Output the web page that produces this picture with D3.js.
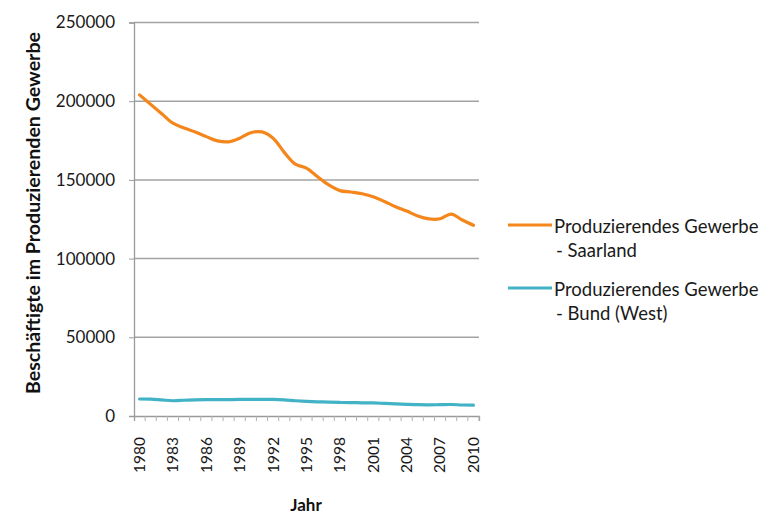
<!DOCTYPE html>
<html>
<head>
<meta charset="utf-8">
<script src="https://cdn.jsdelivr.net/npm/d3@7"></script>
<style>
  html, body { margin: 0; padding: 0; background: #fff; }
  svg { display: block; font-family: Lato, "Open Sans", sans-serif; }
</style>
</head>
<body>
<svg id="chart" width="770" height="518"></svg>
<script>
// Beschäftigte im Produzierenden Gewerbe, 1980–2010
const years = d3.range(1980, 2011);
const saarland = [
  204000, 198000, 192000, 186000, 183000, 180500, 177500, 174800, 174200, 176500,
  180000, 180500, 176500, 167500, 160000, 157500, 152000, 146800, 143200, 142300,
  141200, 139300, 136300, 133000, 130200, 127000, 125200, 125300, 128300, 124500, 121200
];
const bundWest = [
  10800, 10700, 10200, 9700, 10000, 10300, 10400, 10400, 10400, 10500,
  10600, 10600, 10500, 10200, 9700, 9300, 9000, 8800, 8600, 8500,
  8400, 8300, 8000, 7700, 7400, 7200, 7100, 7200, 7300, 7000, 6900
];
const yTicks = [0, 50000, 100000, 150000, 200000, 250000];
const xLabelYears = [1980, 1983, 1986, 1989, 1992, 1995, 1998, 2001, 2004, 2007, 2010];
const seriesNames = [
  ["Produzierendes Gewerbe", "- Saarland"],
  ["Produzierendes Gewerbe", "- Bund (West)"]
];
const seriesColors = ["#F4861C", "#42B2C6"];

const svg = d3.select("#chart");
const plot = { left: 134, right: 479, top: 22.5, bottom: 416 };

const x = d3.scaleBand().domain(years).range([plot.left, plot.right]);
const y = d3.scaleLinear().domain([0, 250000]).range([plot.bottom, plot.top]);

// horizontal gridlines
svg.append("g")
  .selectAll("line")
  .data(yTicks.filter(d => d > 0))
  .join("line")
  .attr("x1", plot.left).attr("x2", plot.right)
  .attr("y1", d => y(d)).attr("y2", d => y(d))
  .attr("stroke", "#A3A3A3").attr("stroke-width", 1.5);

// y axis
const yAxis = svg.append("g")
  .attr("transform", `translate(${plot.left},0)`)
  .call(d3.axisLeft(y).tickValues(yTicks).tickSize(5).tickPadding(14).tickFormat(d3.format("d")));
yAxis.select(".domain").attr("stroke", "#9a9a9a").attr("stroke-width", 1.3);
yAxis.selectAll(".tick line").attr("stroke", "#9a9a9a");
yAxis.selectAll(".tick text")
  .attr("font-size", 17).attr("fill", "#1a1a1a")
  .style("font-family", "Lato, sans-serif");

// x axis
const xAxis = svg.append("g")
  .attr("transform", `translate(0,${plot.bottom})`)
  .call(d3.axisBottom(x).tickSize(5).tickFormat(d => xLabelYears.includes(d) ? d : ""));
xAxis.select(".domain").attr("stroke", "#9a9a9a").attr("stroke-width", 1.3);
xAxis.selectAll(".tick line")
  .attr("stroke", "#b0b0b0")
  .attr("transform", d => `translate(${x.bandwidth() / 2},0)`);
xAxis.selectAll(".tick text")
  .attr("font-size", 15.5).attr("fill", "#1a1a1a")
  .attr("text-anchor", "end")
  .attr("dy", "0.35em")
  .attr("transform", "translate(0,21) rotate(-90)")
  .attr("x", 0).attr("y", 0)
  .style("font-family", "Lato, sans-serif");

// series lines
const line = d3.line()
  .x((d, i) => x(years[i]) + x.bandwidth() / 2)
  .y(d => y(d))
  .curve(d3.curveCatmullRom.alpha(0.5));

[saarland, bundWest].forEach((vals, i) => {
  svg.append("path")
    .datum(vals)
    .attr("fill", "none")
    .attr("stroke", seriesColors[i])
    .attr("stroke-width", 3.2)
    .attr("stroke-linejoin", "round")
    .attr("stroke-linecap", "round")
    .attr("d", line);
});

// axis titles
svg.append("text")
  .attr("transform", `translate(40,213) rotate(-90)`)
  .attr("text-anchor", "middle")
  .attr("font-size", 18)
  .attr("font-weight", "bold")
  .attr("fill", "#111")
  .attr("textLength", 362)
  .attr("lengthAdjust", "spacingAndGlyphs")
  .text("Beschäftigte im Produzierenden Gewerbe");

svg.append("text")
  .attr("x", 306).attr("y", 511)
  .attr("text-anchor", "middle")
  .attr("font-size", 17)
  .attr("font-weight", "bold")
  .attr("fill", "#111")
  .text("Jahr");

// legend
const legendY = [225, 288];
seriesNames.forEach((lines, i) => {
  const g = svg.append("g");
  g.append("line")
    .attr("x1", 508).attr("x2", 552)
    .attr("y1", legendY[i]).attr("y2", legendY[i])
    .attr("stroke", seriesColors[i]).attr("stroke-width", 3.2);
  g.append("text")
    .attr("x", 554).attr("y", legendY[i] + 8)
    .attr("font-size", 18.5).attr("fill", "#1a1a1a")
    .text(lines[0]);
  g.append("text")
    .attr("x", 556).attr("y", legendY[i] + 32)
    .attr("font-size", 18.5).attr("fill", "#1a1a1a")
    .text(lines[1]);
});
</script>
</body>
</html>
